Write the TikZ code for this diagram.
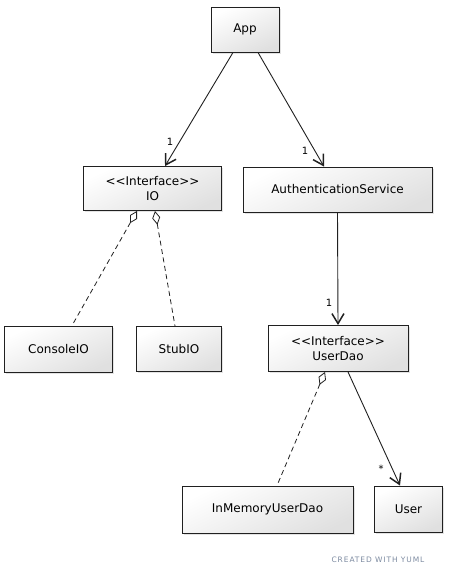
\documentclass[tikz,border=0pt]{standalone}
\usepackage{fontspec}
\setmainfont{DejaVu Sans}
\newfontfamily\markfont[LetterSpace=12]{DejaVu Sans}
\usetikzlibrary{arrows.meta,shadows}
\definecolor{boxedge}{HTML}{202020}
\definecolor{markgrey}{HTML}{7C8AA0}
\tikzset{
  classbox/.style={draw=boxedge, line width=0.9pt, top color=white, bottom color=black!12,
    shading angle=25, minimum width=#1, inner sep=0pt, align=center,
    font=\fontsize{12}{15.5}\selectfont,
    drop shadow={opacity=0.22, shadow xshift=1.6pt, shadow yshift=-1.6pt}},
  assoc/.style={draw=boxedge, line width=0.9pt, -{Straight Barb[length=10pt,width=12pt,line width=1.5pt]}},
  aggr/.style={draw=boxedge, line width=0.8pt, dash pattern=on 5pt off 3.5pt,
    {Diamond[open,length=14pt,width=8pt,fill=white,line width=0.8pt]}-},
  mult/.style={font=\fontsize{10}{11}\selectfont, inner sep=0pt}
}
\begin{document}
\begin{tikzpicture}[x=1pt,y=-1pt]
\useasboundingbox (0,0) rectangle (448,575);

% classes
\node[classbox=68pt, minimum height=45pt] (app) at (245,29.5) {App};
\node[classbox=138pt, minimum height=44pt] (io) at (152.5,188.5) {{<}{<}Interface{>}{>}\\IO};
\node[classbox=189pt, minimum height=45pt] (auth) at (337.5,189.5) {AuthenticationService};
\node[classbox=108pt, minimum height=46pt] (console) at (58.5,349) {ConsoleIO};
\node[classbox=85pt, minimum height=45pt] (stub) at (179,349) {StubIO};
\node[classbox=140pt, minimum height=46pt] (dao) at (338,348.5) {{<}{<}Interface{>}{>}\\UserDao};
\node[classbox=171pt, minimum height=47pt] (mem) at (267.5,509.5) {InMemoryUserDao};
\node[classbox=68pt, minimum height=46pt] (user) at (408.5,509) {User};

% associations
\draw[assoc] ([xshift=-12pt]app.south) -- ([xshift=12.5pt]io.north);
\draw[assoc] ([xshift=13pt]app.south) -- ([xshift=-13.5pt]auth.north);
\draw[assoc] (auth.south) -- (dao.north);
\draw[assoc] ([xshift=10pt]dao.south) -- ([xshift=-8.5pt]user.north);

% aggregations
\draw[aggr] ([xshift=-15.5pt]io.south) -- ([xshift=13.5pt]console.north);
\draw[aggr] ([xshift=2.5pt]io.south) -- ([xshift=-4pt]stub.north);
\draw[aggr] ([xshift=-13pt]dao.south) -- ([xshift=9.5pt]mem.north);

% multiplicities
\node[mult] (m1) at (170,142) {1};
\node[mult] (m2) at (305,151) {1};
\node[mult] (m3) at (329,303) {1};
\node[mult] (m4) at (381,469) {*};

\node[font=\markfont\fontsize{7.5}{9}\selectfont, text=markgrey, inner sep=0pt] (mark) at (378,560) {CREATED WITH YUML};
\end{tikzpicture}
\end{document}
